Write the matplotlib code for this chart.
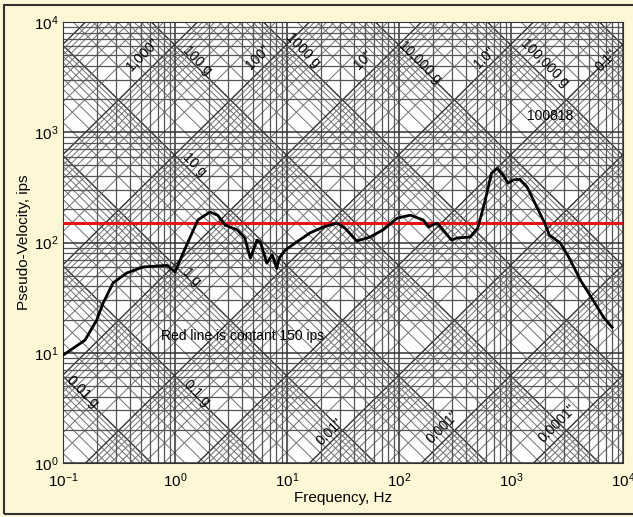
import numpy as np
import matplotlib

matplotlib.use("Agg")
import matplotlib.pyplot as plt
from matplotlib.patches import Rectangle
from matplotlib.ticker import LogLocator, NullFormatter

plt.rcParams["font.family"] = ["Liberation Sans", "DejaVu Sans"]
plt.rcParams["mathtext.fontset"] = "custom"
plt.rcParams["mathtext.rm"] = "Liberation Sans"
plt.rcParams["mathtext.it"] = "Liberation Sans:italic"
plt.rcParams["mathtext.bf"] = "Liberation Sans:bold"

# shock response spectrum (Hz, ips)
freq = [0.1, 0.157, 0.2, 0.228, 0.28, 0.372, 0.52, 0.85, 1.0, 1.18, 1.6, 2.05, 2.4, 2.8, 3.6,
        4.2, 4.7, 5.4, 5.8, 6.6, 7.4, 8.1, 8.5, 9.6, 12.2, 16, 21, 28, 33, 42, 55, 72,
        96, 126, 165, 185, 200, 220, 295, 330, 430, 505, 580, 670, 750, 850, 940, 1050,
        1200, 1390, 1700, 2000, 2200, 2750, 3200, 4200, 5400, 6700, 8000]
velocity = [9.5, 13.0, 19.8, 28.2, 43, 53, 60, 62, 54, 80, 160, 189, 177, 144, 130,
            110, 72, 105, 100, 65, 77, 58, 72, 85, 101, 122, 138, 150, 135, 103, 112, 130,
            166, 177, 160, 138, 145, 150, 105, 110, 112, 135, 228, 425, 470, 410, 345, 370,
            375, 320, 210, 150, 117, 99, 77, 45, 30, 21, 17]
red_level = 150

# diagonal grid: acceleration (g) and displacement (in) labels
accel_labels = [("0.01 g", 0.15, 4.4), ("0.1 g", 1.57, 4.3), ("1 g", 1.42, 48.6),
                ("10 g", 1.5, 505), ("100 g", 1.57, 4530), ("1000 g", 13.9, 5540),
                ("10,000 g", 153, 4300), ("100,000 g", 2000, 4300)]
disp_labels = [('1,000"', 0.518, 5060), ('100"', 5.5, 4800), ('10"', 47.7, 4530),
               ('1.0"', 580, 4700), ('0.1"', 7100, 4500), ('0.01"', 24.2, 1.9),
               ('0.001"', 245, 2.1), ('0.0001"', 2620, 2.3)]

G = 386.09
fig = plt.figure(figsize=(6.33, 5.17), dpi=100)
fig.patch.set_facecolor("#fdf7d6")
ax = fig.add_axes([63 / 633, 1 - 463 / 517, 560 / 633, 441 / 517])
ax.set_xscale("log")
ax.set_yscale("log")
ax.set_xlim(0.1, 1e4)
ax.set_ylim(1, 1e4)
ax.set_facecolor("white")

f_ends = np.array([0.1, 1e4])
for n in range(-4, 8):
    for k in range(1, 10):
        a = k * 10.0 ** n
        lw, c = (1.0, "#303030") if k == 1 else (0.7, "#707070")
        ax.plot(f_ends, a * G / (2 * np.pi * f_ends), color=c, lw=lw, zorder=1)
for n in range(-7, 6):
    for k in range(1, 10):
        d = k * 10.0 ** n
        lw, c = (1.0, "#303030") if k == 1 else (0.7, "#707070")
        ax.plot(f_ends, 2 * np.pi * f_ends * d, color=c, lw=lw, zorder=1)

ax.xaxis.set_minor_locator(LogLocator(base=10, subs=np.arange(2, 10)))
ax.yaxis.set_minor_locator(LogLocator(base=10, subs=np.arange(2, 10)))
ax.xaxis.set_minor_formatter(NullFormatter())
ax.yaxis.set_minor_formatter(NullFormatter())
ax.grid(True, which="major", color="#303030", lw=1.1, zorder=1)
ax.grid(True, which="minor", color="#555555", lw=0.9, zorder=1)
ax.tick_params(which="both", length=0, labelsize=11)
ax.tick_params(axis="x", pad=6)
ax.tick_params(axis="y", pad=3)

for text, x, y in accel_labels:
    ax.text(x, y, text, rotation=-45, ha="center", va="center", fontsize=10, zorder=3)
for text, x, y in disp_labels:
    ax.text(x, y, text, rotation=45, ha="center", va="center", fontsize=10, zorder=3)
ax.text(2225, 1400, "100818", ha="center", va="center", fontsize=10, zorder=3)
ax.text(4.05, 14.2, "Red line is contant 150 ips", ha="center", va="center", fontsize=10, zorder=3)

ax.axhline(red_level, color="#e8141b", lw=2.2, zorder=4)
ax.plot(freq, velocity, color="black", lw=2, zorder=5)

for s in ax.spines.values():
    s.set_color("#333333")
ax.set_xlabel("Frequency, Hz", fontsize=11, labelpad=1)
ax.set_ylabel("Pseudo-Velocity, ips", fontsize=11, labelpad=2)

fig.patches.append(Rectangle((4 / 633, 3 / 517), 1.2, 1 - 8 / 517, transform=fig.transFigure,
                             fill=False, edgecolor="#333333", lw=1.5))
fig.savefig("out.png", dpi=100, facecolor=fig.get_facecolor())
